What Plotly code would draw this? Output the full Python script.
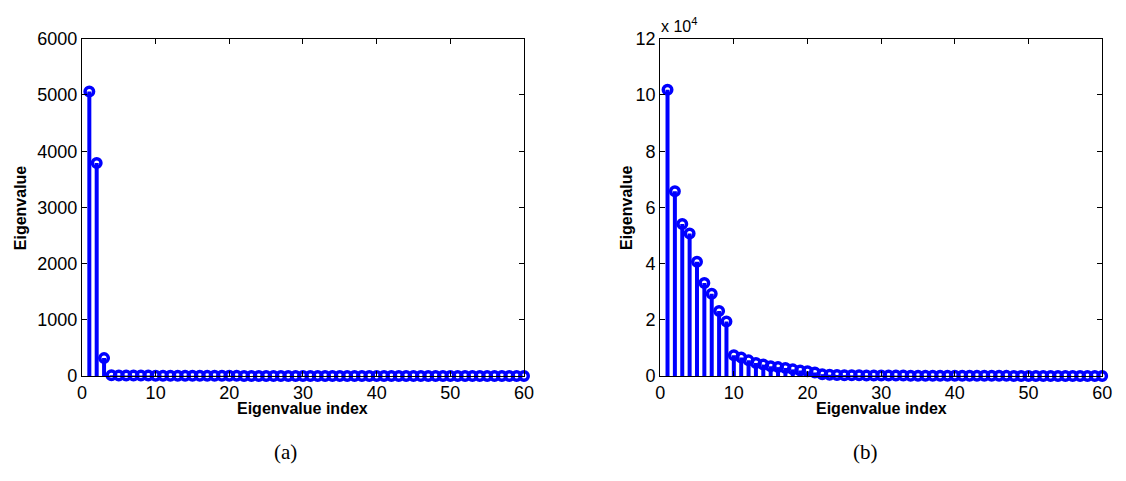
import plotly.graph_objects as go

# ---------------- data ----------------
idx = list(range(1, 61))
eig_a = [5063, 3790, 320, 14, 12, 11, 10, 9, 9, 8,
         8, 7, 7, 7, 6, 6, 6, 5, 5, 5,
         5, 4, 4, 4, 4, 4, 3, 3, 3, 3,
         3, 3, 3, 2, 2, 2, 2, 2, 2, 2,
         2, 2, 2, 1, 1, 1, 1, 1, 1, 1,
         1, 1, 1, 1, 1, 1, 1, 1, 1, 1]
eig_b = [101900, 65800, 54100, 50700, 40700, 33100, 29300, 23200, 19400, 7400,
         6600, 5600, 4700, 4100, 3500, 3200, 2900, 2400, 2000, 1700,
         1300, 700, 500, 400, 350, 300, 280, 260, 240, 220,
         200, 190, 180, 170, 160, 150, 140, 130, 125, 120,
         115, 110, 105, 100, 95, 90, 85, 80, 75, 70,
         65, 60, 55, 50, 45, 40, 35, 30, 25, 20]

xticks = [0, 10, 20, 30, 40, 50, 60]
yticks_a = [0, 1000, 2000, 3000, 4000, 5000, 6000]
yticks_b = [0, 20000, 40000, 60000, 80000, 100000, 120000]
yticktext_b = ["0", "2", "4", "6", "8", "10", "12"]

BLUE = "#0000ff"
FONT = "Liberation Sans"

fig = go.Figure()


def stems(x, y, xa, ya):
    sx, sy = [], []
    for xi, yi in zip(x, y):
        sx += [xi, xi, None]
        sy += [0, yi, None]
    fig.add_trace(go.Scatter(x=sx, y=sy, mode="lines", xaxis=xa, yaxis=ya,
                             line=dict(color=BLUE, width=4),
                             hoverinfo="skip", showlegend=False))
    fig.add_trace(go.Scatter(x=x, y=y, mode="markers", xaxis=xa, yaxis=ya,
                             cliponaxis=False,
                             marker=dict(symbol="circle-open", size=8.5,
                                         color=BLUE, line=dict(width=3.5, color=BLUE)),
                             showlegend=False))


stems(idx, eig_a, "x", "y")
stems(idx, eig_b, "x2", "y2")

W, H = 1126, 481
ax_common = dict(showgrid=False, zeroline=False, ticks="inside", ticklen=5,
                 tickcolor="black", linecolor="black", linewidth=1, mirror="ticks",
                 showline=True, tickfont=dict(family=FONT, size=18, color="black"),
                 layer="above traces")

yd = [1 - 382 / H, 1 - 30 / H]
fig.update_layout(
    width=W, height=H,
    margin=dict(l=0, r=0, t=0, b=0, pad=0),
    paper_bgcolor="white", plot_bgcolor="white",
    xaxis=dict(domain=[78 / W, 526 / W], range=[0, 60], tickvals=xticks,
               anchor="y", **ax_common),
    yaxis=dict(domain=yd, range=[0, 6000], tickvals=yticks_a, anchor="x",
               **ax_common),
    xaxis2=dict(domain=[664 / W, 1112 / W], range=[0, 60], tickvals=xticks,
                anchor="y2", **ax_common),
    yaxis2=dict(domain=yd, range=[0, 120000], tickvals=yticks_b,
                ticktext=yticktext_b, anchor="x2", **ax_common),
)

title_font = dict(family=FONT, size=16, color="black")
ann = []
for cx in [(78 + 526) / 2, (664 + 1112) / 2]:
    ann.append(dict(x=cx / W, y=1 - 416 / H, xref="paper", yref="paper",
                    text="<b>Eigenvalue index</b>", showarrow=False,
                    font=title_font, xanchor="center", yanchor="middle"))
for cx in [16, 630]:
    ann.append(dict(x=cx / W, y=1 - 206 / H, xref="paper", yref="paper",
                    text="<b>Eigenvalue</b>", showarrow=False, textangle=-90,
                    font=title_font, xanchor="center", yanchor="middle"))
ann.append(dict(x=284 / W, y=1 - 461 / H, xref="paper", yref="paper", text="(a)",
                showarrow=False, font=dict(family="Liberation Serif", size=21, color="black"),
                xanchor="center", yanchor="middle"))
ann.append(dict(x=872 / W, y=1 - 461 / H, xref="paper", yref="paper", text="(b)",
                showarrow=False, font=dict(family="Liberation Serif", size=21, color="black"),
                xanchor="center", yanchor="middle"))
ann.append(dict(x=663 / W, y=1 - 16 / H, xref="paper", yref="paper",
                text="x 10<sup>4</sup>", showarrow=False,
                font=dict(family=FONT, size=16, color="black"),
                xanchor="left", yanchor="middle"))
fig.update_layout(annotations=ann)

fig.write_html("out.html", config={"displayModeBar": False},
               post_script="document.body.style.margin='0';document.body.style.overflow='hidden';")
